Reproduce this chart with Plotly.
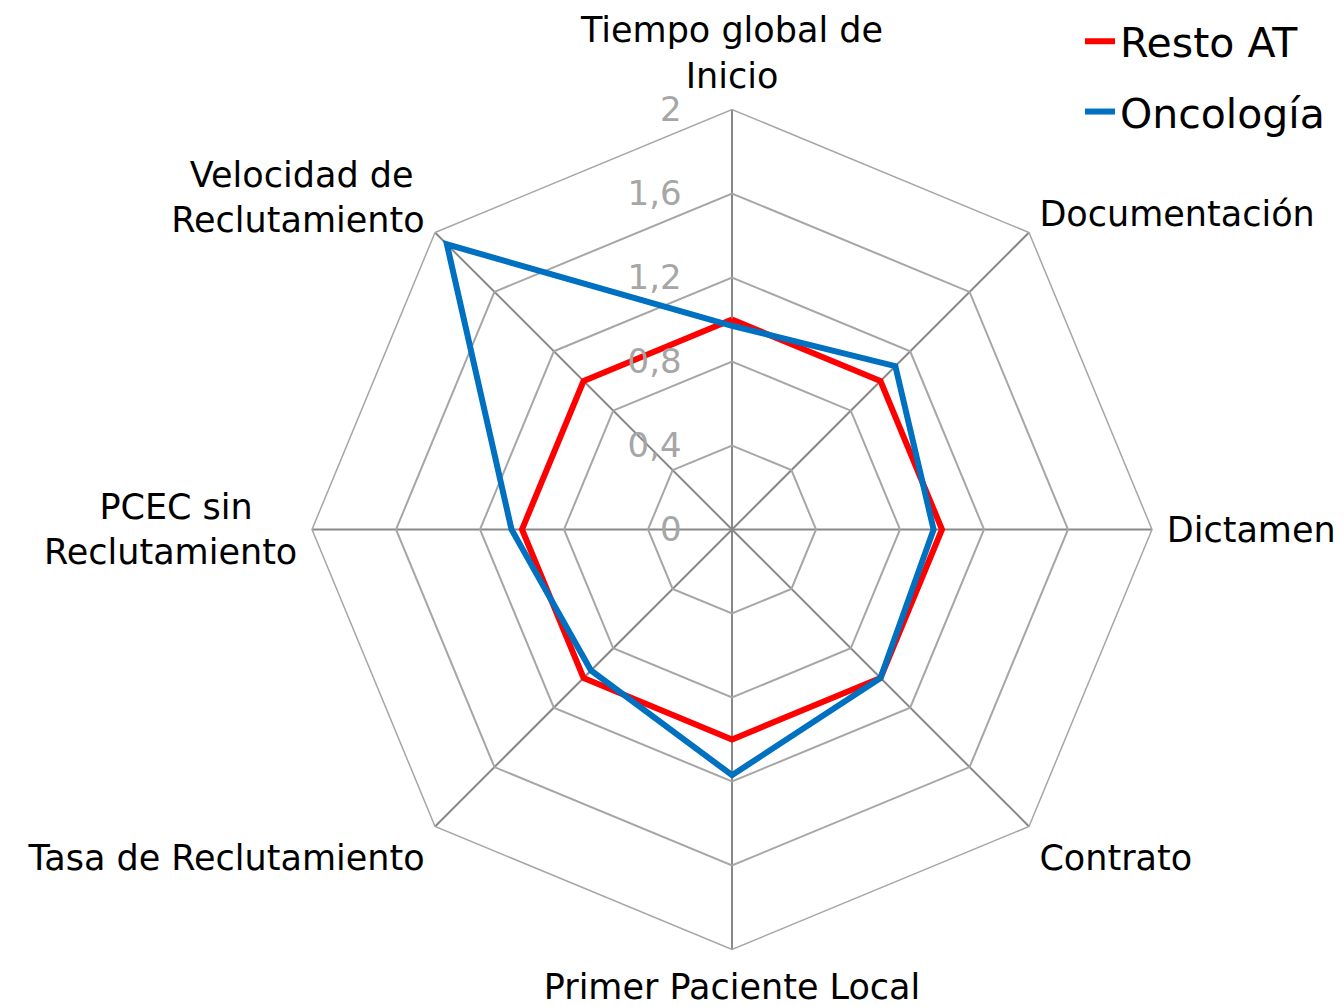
import plotly.graph_objects as go

# categorias del radar (en sentido horario desde arriba)
categorias = ["Tiempo global de<br>Inicio", "Documentación", "Dictamen", "Contrato",
              "Primer Paciente Local", "Tasa de Reclutamiento",
              "PCEC sin<br>Reclutamiento", "Velocidad de<br>Reclutamiento"]
# etiquetas mostradas (espacios duros para centrar las lineas)
etiquetas = ["Tiempo global de<br>Inicio", "Documentación", "Dictamen", "Contrato",
             "Primer Paciente Local", "Tasa de Reclutamiento",
             "PCEC sin\u00a0\u00a0\u00a0\u00a0<br>Reclutamiento",
             "Velocidad de\u00a0<br>Reclutamiento"]

resto_at = [1.0, 1.0, 1.0, 1.0, 1.0, 1.0, 1.0, 1.0]
oncologia = [0.97, 1.10, 0.96, 1.0, 1.17, 0.95, 1.05, 1.92]

fig = go.Figure()

# cerrar el poligono repitiendo el primer punto
fig.add_trace(go.Scatterpolar(r=resto_at + resto_at[:1], theta=categorias + categorias[:1],
                              mode="lines", name="Resto AT", legendgroup="a",
                              line=dict(color="#FF0000", width=6)))
fig.add_trace(go.Scatterpolar(r=oncologia + oncologia[:1], theta=categorias + categorias[:1],
                              mode="lines", name="Oncología", legendgroup="b",
                              line=dict(color="#0070C0", width=6)))

fig.update_layout(
    width=1344, height=1007,
    paper_bgcolor="white",
    separators=",.",
    margin=dict(l=0, r=0, t=0, b=0),
    font=dict(family="DejaVu Sans", color="black"),
    polar=dict(
        domain=dict(x=[0.2262, 0.8512], y=[0.0660, 0.9119]),
        bgcolor="white",
        gridshape="linear",
        radialaxis=dict(range=[0, 2], dtick=0.4, tickformat=".1~f", angle=90,
                        side="counterclockwise", tickangle=90,
                        ticks="outside", ticklen=38, tickcolor="rgba(0,0,0,0)",
                        gridcolor="#A6A6A6", gridwidth=1.5, showline=False,
                        tickfont=dict(size=34, color="#A6A6A6")),
        angularaxis=dict(direction="clockwise", rotation=90,
                         categoryorder="array", categoryarray=categorias,
                         tickvals=categorias, ticktext=etiquetas,
                         ticks="outside", ticklen=7, tickcolor="rgba(0,0,0,0)",
                         gridcolor="#888888", gridwidth=1.5,
                         linecolor="#A6A6A6", linewidth=1.5,
                         tickfont=dict(size=35, color="black")),
    ),
    legend=dict(x=0.7976, y=1.014, xanchor="left", yanchor="top",
                font=dict(size=41, color="black"), tracegroupgap=14,
                bgcolor="rgba(0,0,0,0)"),
)

fig.write_html("out.html")
